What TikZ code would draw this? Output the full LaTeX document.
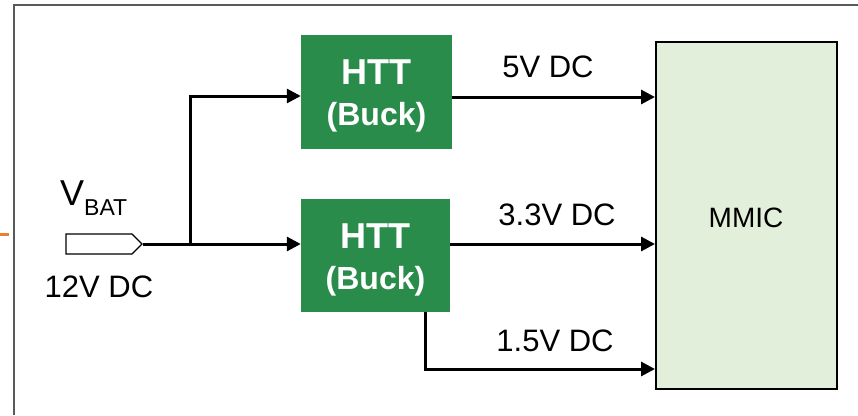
\documentclass[tikz,border=0pt]{standalone}
\usepackage{fontspec}
\setmainfont{Liberation Sans}
\usetikzlibrary{arrows.meta,shapes.symbols}
\definecolor{httgreen}{HTML}{2A8C4B}
\definecolor{mmicfill}{HTML}{E2EFDA}
\definecolor{framegray}{HTML}{595959}
\definecolor{tickorange}{HTML}{ED7D31}
\tikzset{
  buck/.style={draw=none, fill=httgreen, minimum width=151pt, minimum height=114pt, inner sep=0pt},
  bucktext/.style={text=white, inner sep=0pt, align=center, font=\bfseries\fontsize{36}{41}\selectfont},
  mmicbox/.style={draw=black, line width=2pt, fill=mmicfill, minimum width=181pt, minimum height=347pt, inner sep=0pt},
  wire/.style={line width=3pt, black},
  arr/.style={wire, -{Triangle[length=14pt,width=14pt]}},
  lbl/.style={anchor=base, inner sep=0pt, font=\fontsize{31}{33}\selectfont},
  conn/.style={signal, signal to=east, draw=black, line width=1.2pt, fill=white, minimum width=76pt, minimum height=20pt, inner sep=0pt}
}
\begin{document}
\begin{tikzpicture}[x=1pt,y=-1pt]
\useasboundingbox (0,0) rectangle (858,415);
% frame
\draw[framegray, line width=2.2pt] (14,415) -- (14,5) -- (858,5);
\draw[tickorange, line width=3pt] (0,234) -- (9,234);
% nodes
\node[buck] (b1) at (376.5,92) {};
\node[bucktext] (b1t) at ([yshift=-4pt]b1.center) {HTT\\[0pt]{\fontsize{32}{41}\selectfont (Buck)}};
\node[buck, minimum width=149pt, minimum height=113pt] (b2) at (375.5,255.5) {};
\node[bucktext] (b2t) at ([yshift=-4pt]b2.center) {HTT\\[0pt]{\fontsize{32}{41}\selectfont (Buck)}};
\node[mmicbox] (mmic) at (746.5,215.5) {};
\node[lbl, font=\fontsize{28}{30}\selectfont] (mmictxt) at (746,227) {MMIC};
\node[conn] (vbat) at (99,244) {};
\coordinate (jn) at (190,244);
\coordinate (b1in) at (b1.west |- 0,96);
\coordinate (b2in) at (b2.west |- 0,244);
\coordinate (b1out) at (b1.east |- 0,97);
\coordinate (m1) at (mmic.west |- 0,97);
\coordinate (b2out) at (b2.east |- 0,244);
\coordinate (m2) at (mmic.west |- 0,244);
\coordinate (b2bot) at (425,312);
\coordinate (m3) at (mmic.west |- 0,369);
% wires
\draw[wire] (vbat.east) -- (jn);
\draw[arr] (jn) -- (b2in);
\draw[arr] (jn) |- (b1in);
\draw[arr] (b1out) -- (m1);
\draw[arr] (b2out) -- (m2);
\draw[arr] (b2bot) |- (m3);
% labels
\node[anchor=base west, inner sep=0pt, font=\fontsize{36}{38}\selectfont] (vbatlbl) at (60,205) {V\raisebox{-10pt}{\fontsize{23}{25}\selectfont BAT}};
\node[lbl] (v12) at (99,297) {12V DC};
\node[lbl] (v5) at (548,77) {5V DC};
\node[lbl] (v33) at (557,225) {3.3V DC};
\node[lbl] (v15) at (555,351) {1.5V DC};
\end{tikzpicture}
\end{document}
